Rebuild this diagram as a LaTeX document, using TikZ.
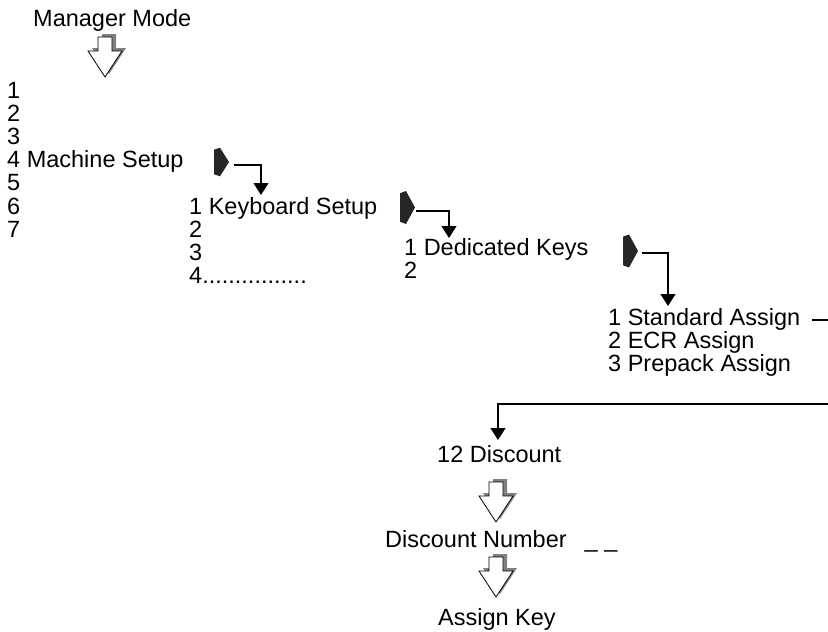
\documentclass[tikz,border=0pt]{standalone}
\usepackage{fontspec}
\setmainfont{Liberation Sans}
\usetikzlibrary{arrows.meta}
\begin{document}
\begin{tikzpicture}[x=1pt,y=-1pt,
  txt/.style={font=\fontsize{23.5}{23.3}\selectfont, inner sep=0pt, anchor=base west},
  conn/.style={line width=1.2pt, -{Triangle[width=15pt,length=12pt]}},
  plain/.style={line width=1.2pt},
  hollow/.pic={
    \fill[black!50] (4,-3) -- (21,-29) -- (11,-29) -- (11,-43) -- (-3,-43) -- (-3,-29) -- (-13,-29) -- cycle;
    \draw[fill=white, line width=0.8pt, line join=miter] (0,0) -- (17,-26) -- (7,-26) -- (7,-40) -- (-7,-40) -- (-7,-26) -- (-17,-26) -- cycle;
  },
  ptr/.pic={
    \fill[black!85] (0,-13) -- (6,-15) -- (15,0) -- (6,15) -- (0,13) -- cycle;
  }]
\useasboundingbox (0,0) rectangle (828,632);

% title
\node[txt] (mm) at (33,26) {Manager Mode};
\pic at (105,77) {hollow};

% column 1
\node[txt] (c1a) at (7,98.5) {1};
\node[txt] (c1b) at (7,121.6) {2};
\node[txt] (c1c) at (7,144.7) {3};
\node[txt] (c1d) at (7,167.8) {4 Machine Setup};
\node[txt] (c1e) at (7,190.9) {5};
\node[txt] (c1f) at (7,214) {6};
\node[txt] (c1g) at (7,237.1) {7};

% column 2
\node[txt] (c2a) at (189,214) {1 Keyboard Setup};
\node[txt] (c2b) at (189,237.1) {2};
\node[txt] (c2c) at (189,260.2) {3};
\node[txt] (c2d) at (189,283.3) {4................};

% column 3
\node[txt] (c3a) at (404,255) {1 Dedicated Keys};
\node[txt] (c3b) at (404,278.1) {2};

% column 4
\node[txt] (c4a) at (608,325) {1 Standard Assign};
\node[txt] (c4b) at (608,348.3) {2 ECR Assign};
\node[txt] (c4c) at (608,371.6) {3 Prepack Assign};

% lower sequence
\node[txt] (d1) at (437,462) {12 Discount};
\pic at (496,522) {hollow};
\node[txt] (d2) at (385,547) {Discount Number\hspace{18pt}\_ \_};
\pic at (496,597) {hollow};
\node[txt] (d3) at (438,625) {Assign Key};

% pointers
\pic[yscale=0.95] at (214,162) {ptr};
\pic[yscale=1.1] at (400,207.5) {ptr};
\pic[yscale=1.1] at (623,251) {ptr};

% connectors
\coordinate (p1) at (234,165);
\coordinate (e1) at (261,195);
\coordinate (p2) at (416,211);
\coordinate (e2) at (449,238);
\coordinate (p3) at (642,253);
\coordinate (e3) at (668,306);
\coordinate (s4a) at (812,320);
\coordinate (s4b) at (828,320);
\coordinate (r5) at (828,404);
\coordinate (e5) at (498,440);

\draw[conn] (p1) -| (e1);
\draw[conn] (p2) -| (e2);
\draw[conn] (p3) -| (e3);
\draw[plain] (s4a) -- (s4b);
\draw[conn] (r5) -| (e5);
\end{tikzpicture}
\end{document}
